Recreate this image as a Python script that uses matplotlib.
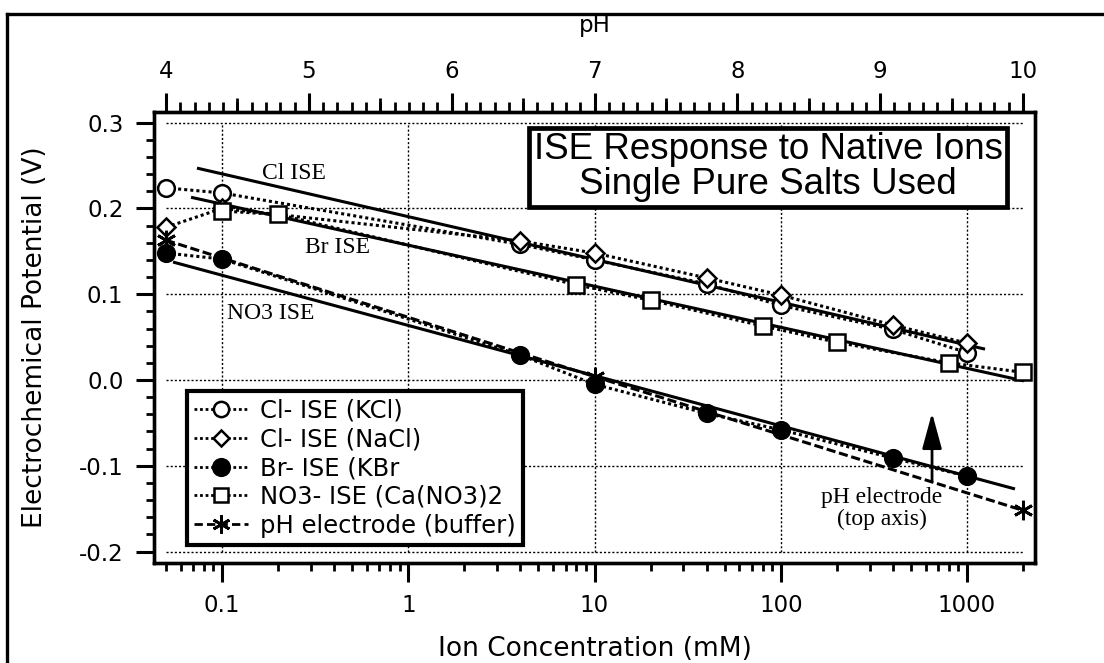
import numpy as np
import matplotlib
matplotlib.use("Agg")
import matplotlib.pyplot as plt
from matplotlib.lines import Line2D
from matplotlib.ticker import LogLocator, FixedLocator, NullFormatter, MultipleLocator

# ---------------- data ----------------
kcl_conc = [0.05, 0.1, 4, 10, 40, 100, 400, 1000]
kcl_v = [0.224, 0.218, 0.158, 0.140, 0.112, 0.087, 0.059, 0.032]

nacl_conc = [0.05, 0.1, 4, 10, 40, 100, 400, 1000]
nacl_v = [0.178, 0.200, 0.162, 0.148, 0.119, 0.099, 0.064, 0.043]

kbr_conc = [0.05, 0.1, 4, 10, 40, 100, 400, 1000]
kbr_v = [0.148, 0.141, 0.029, -0.005, -0.039, -0.058, -0.091, -0.112]

no3_conc = [0.1, 0.2, 8, 20, 80, 200, 800, 2000]
no3_v = [0.197, 0.193, 0.111, 0.093, 0.063, 0.044, 0.020, 0.009]

ph_values = [4, 7, 10]
ph_v = [0.163, 0.004, -0.152]

# fitted lines (end points)
cl_fit_conc = [0.0734, 1250]
cl_fit_v = [0.247, 0.036]
br_fit_conc = [0.0682, 2020]
br_fit_v = [0.213, -0.001]
no3_fit_conc = [0.0546, 1810]
no3_fit_v = [0.1375, -0.127]

x_ticks = [0.1, 1, 10, 100, 1000]
x_ticklabels = ["0.1", "1", "10", "100", "1000"]
y_ticks = [-0.2, -0.1, 0.0, 0.1, 0.2, 0.3]
y_ticklabels = ["-0.2", "-0.1", "0.0", "0.1", "0.2", "0.3"]
ph_ticks = [4, 5, 6, 7, 8, 9, 10]

legend_labels = ["Cl- ISE (KCl)", "Cl- ISE (NaCl)", "Br- ISE (KBr",
                 "NO3- ISE (Ca(NO3)2", "pH electrode (buffer)"]

# pH <-> concentration mapping (pH 4 ↔ 0.05 mM, pH 10 ↔ 2000 mM)
C0, C1, PH0, PH1 = 0.05, 2000.0, 4.0, 10.0
SPAN = np.log10(C1 / C0)


def c2ph(c):
    c = np.asarray(c, dtype=float)
    return PH0 + (PH1 - PH0) * (np.log10(c) - np.log10(C0)) / SPAN


def ph2c(p):
    p = np.asarray(p, dtype=float)
    return 10 ** (np.log10(C0) + (p - PH0) / (PH1 - PH0) * SPAN)


# ---------------- figure ----------------
W, H = 1104, 663
plt.rcParams["font.family"] = ["DejaVu Sans"]
fig = plt.figure(figsize=(W / 100, H / 100), dpi=100)


def fx(px):
    return px / W


def fy(py):
    return 1 - py / H


ax = fig.add_axes([fx(154), fy(563), fx(1035) - fx(154), fy(112) - fy(563)])
ax.set_xscale("log")
xlim = (10 ** (-1 - 68 / 186.25), 10 ** (3 + 68 / 186.25))
ax.set_xlim(*xlim)
ax.set_ylim(-0.2133, 0.3124)

# grid (dotted), limited to the data frame
for yv in y_ticks:
    ax.plot([0.05, 2000], [yv, yv], color="black", lw=1.0, ls=(0, (1.5, 1.5)), zorder=1)
for xv in x_ticks:
    ax.plot([xv, xv], [-0.2, 0.3], color="black", lw=1.0, ls=(0, (1.5, 1.5)), zorder=1)

dot = (0, (1, 1))
ms = 12
mew = 1.8

ax.plot(kcl_conc, kcl_v, ls=dot, lw=2.2, color="black", marker="o", ms=ms,
        mfc="white", mec="black", mew=mew, zorder=4)
ax.plot(nacl_conc, nacl_v, ls=dot, lw=2.2, color="black", marker="D", ms=ms - 3,
        mfc="white", mec="black", mew=mew, zorder=4)
ax.plot(kbr_conc, kbr_v, ls=dot, lw=2.2, color="black", marker="o", ms=ms,
        mfc="black", mec="black", mew=mew, zorder=4)
ax.plot(no3_conc, no3_v, ls=dot, lw=2.2, color="black", marker="s", ms=ms - 1,
        mfc="white", mec="black", mew=mew, zorder=4)
ax.plot(ph2c(ph_values), ph_v, ls=(0, (3, 1.2)), lw=2.2, color="black",
        marker=(6, 2, 0), ms=ms + 2, mew=2, zorder=4)

# fit lines
for cc, vv in [(cl_fit_conc, cl_fit_v), (br_fit_conc, br_fit_v), (no3_fit_conc, no3_fit_v)]:
    ax.plot(cc, vv, color="black", lw=2.2, zorder=3, solid_capstyle="butt")

# annotations
serif = ["Liberation Serif", "DejaVu Serif"]
ax.text(0.164, 0.241, "Cl ISE", family=serif, fontsize=17, ha="left", va="center", zorder=5)
ax.text(0.279, 0.155, "Br ISE", family=serif, fontsize=17, ha="left", va="center", zorder=5)
ax.text(0.1064, 0.078, "NO3 ISE", family=serif, fontsize=17, ha="left", va="center", zorder=5)
ax.text(350, -0.150, "pH electrode\n(top axis)", family=serif, fontsize=17,
        ha="center", va="center", linespacing=1.05, zorder=5)
ax.annotate("", xy=(649, -0.035), xytext=(649, -0.120),
            arrowprops=dict(arrowstyle="-|>,head_length=2.2,head_width=0.6",
                            color="black", lw=2), zorder=5)

# title box
ax.text(0.697, 0.877, "ISE Response to Native Ions\nSingle Pure Salts Used",
        transform=ax.transAxes, ha="center", va="center", fontsize=26.5,
        family=["Liberation Sans", "DejaVu Sans"], linespacing=1.0, zorder=7,
        bbox=dict(boxstyle="square,pad=0.12", fc="white", ec="black", lw=3.4))

# axes styling
for s in ax.spines.values():
    s.set_linewidth(2.4)
ax.tick_params(axis="both", which="major", direction="out", length=14, width=2.2,
               labelsize=16.5)
ax.tick_params(axis="both", which="minor", direction="out", length=6, width=2.0)
ax.tick_params(axis="y", which="major", length=13, pad=9)
ax.tick_params(axis="x", which="major", pad=8)
ax.tick_params(top=False, right=False, which="both")
ax.xaxis.set_major_locator(FixedLocator(x_ticks))
ax.xaxis.set_minor_locator(LogLocator(base=10, subs=np.arange(2, 10)))
ax.xaxis.set_minor_formatter(NullFormatter())
ax.set_xticklabels(x_ticklabels)
ax.yaxis.set_major_locator(FixedLocator(y_ticks))
ax.yaxis.set_minor_locator(MultipleLocator(0.02))
ax.set_yticklabels(y_ticklabels)
ax.set_xlabel("Ion Concentration (mM)", fontsize=19, labelpad=14)
ax.set_ylabel("Electrochemical Potential (V)", fontsize=19, labelpad=22)

# top pH axis (linear in pH, aligned with the log concentration axis)
top = ax.twiny()
top.set_xlim(c2ph(xlim[0]), c2ph(xlim[1]))
top.xaxis.set_major_locator(FixedLocator(ph_ticks))
top.xaxis.set_minor_locator(MultipleLocator(0.1))
top.tick_params(which="major", direction="out", length=14, width=2.2, labelsize=16.5, pad=7)
top.tick_params(which="minor", direction="out", length=7, width=2.0)
for s in top.spines.values():
    s.set_linewidth(2.4)
top.set_xlabel("pH", fontsize=16.5, labelpad=20)

top2 = ax.twiny()
top2.set_xlim(c2ph(xlim[0]), c2ph(xlim[1]))
top2.xaxis.set_major_locator(FixedLocator([4.5, 5.5, 6.5, 7.5, 8.5, 9.5]))
top2.xaxis.set_minor_locator(FixedLocator([]))
top2.tick_params(which="major", direction="out", length=10, width=2.0, labeltop=False)
for s in top2.spines.values():
    s.set_visible(False)

# legend
handles = [
    Line2D([], [], ls=dot, lw=2, color="black", marker="o", ms=11, mfc="white", mew=1.8),
    Line2D([], [], ls=dot, lw=2, color="black", marker="D", ms=8, mfc="white", mew=1.8),
    Line2D([], [], ls=dot, lw=2, color="black", marker="o", ms=12, mfc="black", mew=1.8),
    Line2D([], [], ls=dot, lw=2, color="black", marker="s", ms=10, mfc="white", mew=1.8),
    Line2D([], [], ls=(0, (3, 1.5)), lw=2, color="black", marker=(6, 2, 0), ms=13, mew=2),
]
leg = ax.legend(handles, legend_labels, loc="upper left",
                bbox_to_anchor=((187 - 154) / 881, 1 - (391 - 112) / 451),
                fontsize=17.5, frameon=True, fancybox=False, framealpha=1,
                edgecolor="black", handlelength=2.2, handletextpad=0.5,
                labelspacing=0.2, borderpad=0.3, borderaxespad=0, numpoints=1)
leg.get_frame().set_linewidth(3)
leg.set_zorder(8)

# outer frame
fig.add_artist(Line2D([fx(7), fx(7)], [fy(14), 0], color="black", lw=2.4))
fig.add_artist(Line2D([fx(7), 1], [fy(14), fy(14)], color="black", lw=2.4))

fig.savefig("out.png", dpi=100)
